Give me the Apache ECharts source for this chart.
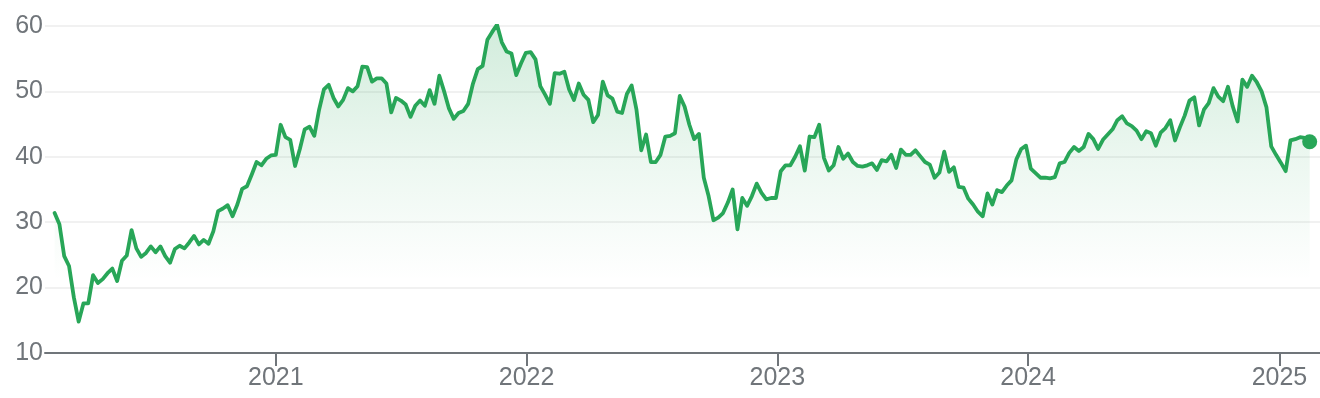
<!DOCTYPE html>
<html>
<head>
<meta charset="utf-8">
<script src="https://cdn.jsdelivr.net/npm/echarts@6/dist/echarts.min.js"></script>
<style>
  html, body { margin: 0; padding: 0; background: #ffffff; }
  #chart { width: 1320px; height: 398px; }
</style>
</head>
<body>
<div id="chart"></div>
<script>
const dates = [
  '2020-02-14','2020-02-21','2020-02-28','2020-03-06','2020-03-13','2020-03-20','2020-03-27','2020-04-03','2020-04-10','2020-04-17',
  '2020-04-24','2020-05-01','2020-05-08','2020-05-15','2020-05-22','2020-05-29','2020-06-05','2020-06-12','2020-06-19','2020-06-26',
  '2020-07-03','2020-07-10','2020-07-17','2020-07-24','2020-07-31','2020-08-07','2020-08-14','2020-08-21','2020-08-28','2020-09-04',
  '2020-09-11','2020-09-18','2020-09-25','2020-10-02','2020-10-09','2020-10-16','2020-10-23','2020-10-30','2020-11-06','2020-11-13',
  '2020-11-20','2020-11-27','2020-12-04','2020-12-11','2020-12-18','2020-12-25',
  '2021-01-01','2021-01-08','2021-01-15','2021-01-22','2021-01-29','2021-02-05','2021-02-12','2021-02-19','2021-02-26','2021-03-05',
  '2021-03-12','2021-03-19','2021-03-26','2021-04-02','2021-04-09','2021-04-16','2021-04-23','2021-04-30','2021-05-07','2021-05-14',
  '2021-05-21','2021-05-28','2021-06-04','2021-06-11','2021-06-18','2021-06-25','2021-07-02','2021-07-09','2021-07-16','2021-07-23',
  '2021-07-30','2021-08-06','2021-08-13','2021-08-20','2021-08-27','2021-09-03','2021-09-10','2021-09-17','2021-09-24','2021-10-01',
  '2021-10-08','2021-10-15','2021-10-22','2021-10-29','2021-11-05','2021-11-12','2021-11-19','2021-11-26','2021-12-03','2021-12-10',
  '2021-12-17','2021-12-24','2021-12-31',
  '2022-01-07','2022-01-14','2022-01-21','2022-01-28','2022-02-04','2022-02-11','2022-02-18','2022-02-25','2022-03-04','2022-03-11',
  '2022-03-18','2022-03-25','2022-04-01','2022-04-08','2022-04-15','2022-04-22','2022-04-29','2022-05-06','2022-05-13','2022-05-20',
  '2022-05-27','2022-06-03','2022-06-10','2022-06-17','2022-06-24','2022-07-01','2022-07-08','2022-07-15','2022-07-22','2022-07-29',
  '2022-08-05','2022-08-12','2022-08-19','2022-08-26','2022-09-02','2022-09-09','2022-09-16','2022-09-23','2022-09-30','2022-10-07',
  '2022-10-14','2022-10-21','2022-10-28','2022-11-04','2022-11-11','2022-11-18','2022-11-25','2022-12-02','2022-12-09','2022-12-16',
  '2022-12-23','2022-12-30',
  '2023-01-06','2023-01-13','2023-01-20','2023-01-27','2023-02-03','2023-02-10','2023-02-17','2023-02-24','2023-03-03','2023-03-10',
  '2023-03-17','2023-03-24','2023-03-31','2023-04-07','2023-04-14','2023-04-21','2023-04-28','2023-05-05','2023-05-12','2023-05-19',
  '2023-05-26','2023-06-02','2023-06-09','2023-06-16','2023-06-23','2023-06-30','2023-07-07','2023-07-14','2023-07-21','2023-07-28',
  '2023-08-04','2023-08-11','2023-08-18','2023-08-25','2023-09-01','2023-09-08','2023-09-15','2023-09-22','2023-09-29','2023-10-06',
  '2023-10-13','2023-10-20','2023-10-27','2023-11-03','2023-11-10','2023-11-17','2023-11-24','2023-12-01','2023-12-08','2023-12-15',
  '2023-12-22','2023-12-29',
  '2024-01-05','2024-01-12','2024-01-19','2024-01-26','2024-02-02','2024-02-09','2024-02-16','2024-02-23','2024-03-01','2024-03-08',
  '2024-03-15','2024-03-22','2024-03-29','2024-04-05','2024-04-12','2024-04-19','2024-04-26','2024-05-03','2024-05-10','2024-05-17',
  '2024-05-24','2024-05-31','2024-06-07','2024-06-14','2024-06-21','2024-06-28','2024-07-05','2024-07-12','2024-07-19','2024-07-26',
  '2024-08-02','2024-08-09','2024-08-16','2024-08-23','2024-08-30','2024-09-06','2024-09-13','2024-09-20','2024-09-27','2024-10-04',
  '2024-10-11','2024-10-18','2024-10-25','2024-11-01','2024-11-08','2024-11-15','2024-11-22','2024-11-29','2024-12-06','2024-12-13',
  '2024-12-20','2024-12-27',
  '2025-01-03','2025-01-10','2025-01-17','2025-01-24','2025-01-31','2025-02-07','2025-02-14'
];

const values = [
  31.4, 29.7, 24.8, 23.3, 18.5, 14.8, 17.6, 17.6, 21.9, 20.7,
  21.3, 22.2, 22.9, 21.0, 24.1, 24.9, 28.8, 26.0, 24.7, 25.3,
  26.3, 25.4, 26.3, 24.8, 23.8, 25.9, 26.4, 26.0, 26.9, 27.9,
  26.6, 27.3, 26.7, 28.6, 31.7, 32.1, 32.6, 30.9, 32.7, 35.1,
  35.5, 37.3, 39.2, 38.7, 39.7, 40.2, 40.3, 44.9, 43.0, 42.6,
  38.6, 41.2, 44.2, 44.6, 43.2, 47.2, 50.3, 51.0, 49.0, 47.7,
  48.7, 50.5, 50.0, 50.8, 53.8, 53.7, 51.5, 52.0, 52.0, 51.2,
  46.8, 49.0, 48.6, 48.0, 46.1, 47.8, 48.6, 47.8, 50.2, 48.1,
  52.4, 50.0, 47.4, 45.8, 46.7, 47.0, 48.1, 51.2, 53.4, 53.9,
  57.9, 59.1, 60.2, 57.5, 56.1, 55.8, 52.5, 54.3, 55.9, 56.0,
  54.9, 50.8, 49.5, 48.1, 52.8, 52.7, 53.0, 50.3, 48.7, 51.2,
  49.5, 48.7, 45.3, 46.4, 51.5, 49.4, 48.9, 46.9, 46.7, 49.6,
  50.9, 47.2, 41.0, 43.4, 39.2, 39.2, 40.3, 43.1, 43.2, 43.6,
  49.3, 47.7, 44.9, 42.7, 43.5, 36.8, 34.0, 30.3, 30.7, 31.4,
  33.0, 35.0, 28.9, 33.7, 32.5, 34.0, 35.9, 34.5, 33.5, 33.7,
  33.7, 37.8, 38.7, 38.7, 40.0, 41.6, 37.9, 43.1, 43.0, 44.9,
  39.8, 37.9, 38.7, 41.5, 39.7, 40.5, 39.2, 38.6, 38.5, 38.7,
  39.0, 38.0, 39.5, 39.3, 40.3, 38.3, 41.1, 40.3, 40.3, 41.0,
  40.1, 39.2, 38.8, 36.8, 37.6, 40.8, 37.7, 38.4, 35.4, 35.3,
  33.6, 32.7, 31.6, 30.9, 34.4, 32.7, 34.9, 34.6, 35.6, 36.4,
  39.6, 41.2, 41.7, 38.2, 37.5, 36.8, 36.8, 36.7, 36.9, 39.0,
  39.2, 40.6, 41.5, 40.9, 41.5, 43.5, 42.7, 41.2, 42.6, 43.4,
  44.2, 45.6, 46.2, 45.1, 44.7, 44.0, 42.7, 43.9, 43.6, 41.7,
  43.7, 44.4, 45.6, 42.5, 44.5, 46.3, 48.6, 49.1, 44.8, 47.2,
  48.2, 50.5, 49.2, 48.5, 50.7, 47.7, 45.4, 51.8, 50.7, 52.4,
  51.4, 50.0, 47.6, 41.6, 40.3, 39.1, 37.8, 42.5, 42.7, 43.0,
  42.9, 42.3
];

const axisStart = '2020-01-31';
const axisEnd = '2025-03-01';
const yMin = 10, yMax = 60, yStep = 10;
const ONE_YEAR = 365 * 24 * 3600 * 1000;

const GREEN = '#28a658';
const TEXT = '#70757a';
const FONT = 'Arial, "Liberation Sans", sans-serif';

const seriesData = dates.map((d, i) => [d, values[i]]);
const lastIdx = dates.length - 1;

const chart = echarts.init(document.getElementById('chart'), null, { renderer: 'canvas' });
chart.setOption({
  animation: false,
  backgroundColor: '#ffffff',
  grid: { left: 45, right: 0, top: 26, bottom: 45, containLabel: false },
  xAxis: {
    type: 'time',
    min: axisStart,
    max: axisEnd,
    minInterval: ONE_YEAR,
    maxInterval: ONE_YEAR * 1.01,
    axisLine: { show: true, lineStyle: { color: '#70757a', width: 2 } },
    axisTick: { show: true, length: 13, lineStyle: { color: '#70757a', width: 2 } },
    axisLabel: {
      color: TEXT, fontSize: 25, fontFamily: FONT,
      margin: 13,
      showMinLabel: false, showMaxLabel: false,
      formatter: function (v) { return String(new Date(v).getFullYear()); }
    },
    splitLine: { show: false }
  },
  yAxis: {
    type: 'value',
    min: yMin, max: yMax, interval: yStep,
    axisLine: { show: false },
    axisTick: { show: false },
    axisLabel: { color: TEXT, fontSize: 25, fontFamily: FONT, margin: 2 },
    splitLine: { show: true, lineStyle: { color: '#f1f1f1', width: 2 } }
  },
  series: [
    {
      type: 'line',
      data: seriesData,
      showSymbol: false,
      symbol: 'none',
      smooth: false,
      lineStyle: { color: GREEN, width: 3.8, join: 'round', cap: 'round' },
      areaStyle: {
        color: new echarts.graphic.LinearGradient(0, 0, 0, 1, [
          { offset: 0, color: 'rgba(40,166,88,0.30)' },
          { offset: 0.4, color: 'rgba(40,166,88,0.13)' },
          { offset: 0.78, color: 'rgba(40,166,88,0)' },
          { offset: 1, color: 'rgba(40,166,88,0)' }
        ])
      },
      z: 2
    },
    {
      type: 'scatter',
      data: [[dates[lastIdx], values[lastIdx]]],
      symbol: 'circle',
      symbolSize: 15,
      itemStyle: { color: GREEN, opacity: 1 },
      emphasis: { disabled: true },
      z: 3
    }
  ]
});
</script>
</body>
</html>
